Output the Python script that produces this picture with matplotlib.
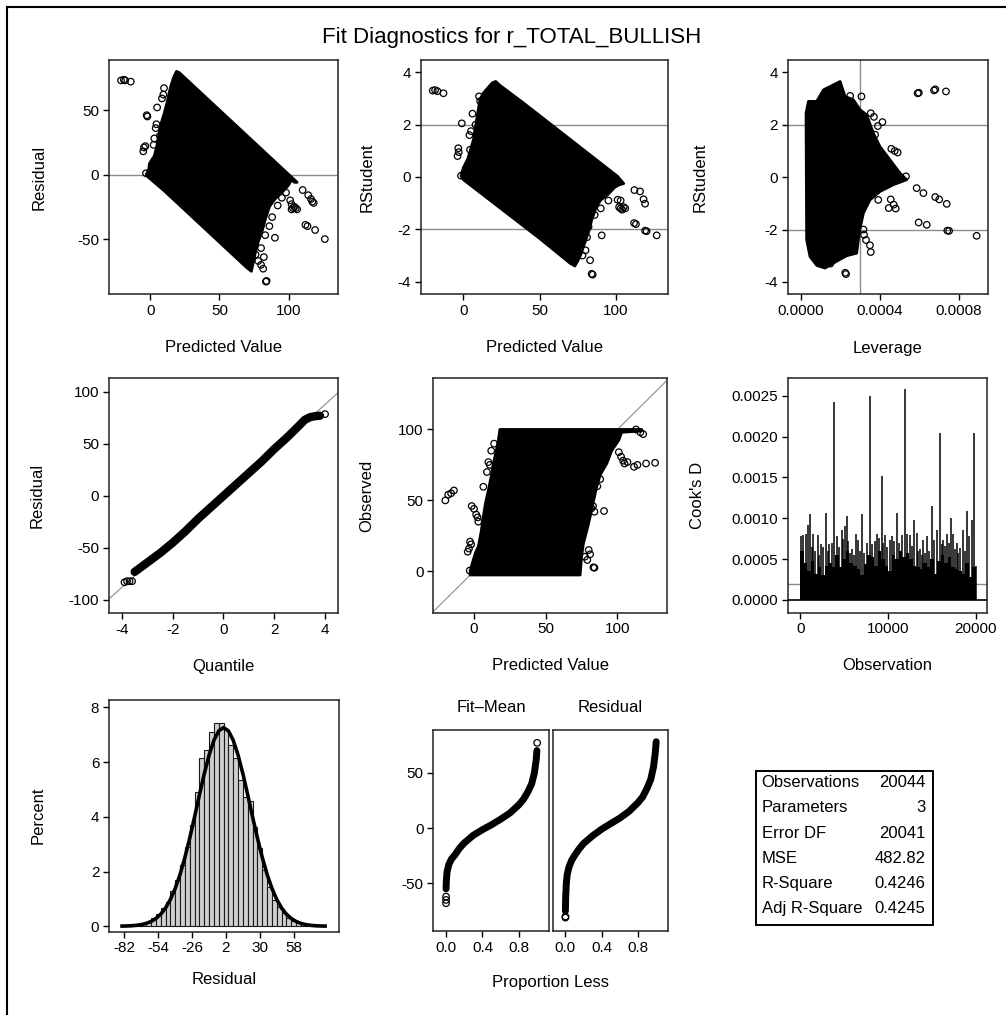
import matplotlib
matplotlib.use('Agg')
import matplotlib.pyplot as plt
import numpy as np
from matplotlib.patches import Polygon, Rectangle
from matplotlib.lines import Line2D

plt.rcParams['font.family'] = ['Liberation Sans', 'DejaVu Sans']
plt.rcParams['axes.unicode_minus'] = False

# ---- data ----
# residual vs predicted: outline of the dense cloud + loose points
res_cloud_pred = [-2.8, -1, -0.5, 1.5, 3, 5, 6.5, 8, 10, 12, 13.5, 15, 17, 19, 21, 40, 60, 80, 100, 106,
                  104, 102, 100, 95, 90, 86, 83, 81, 78, 76, 74, 73, 70, 50, 30, 10, -2.5]
res_cloud_res = [0.2, 4, 8.5, 12, 14.4, 23, 32, 40, 47, 55, 62.5, 69, 75.5, 80, 79, 60, 40, 20, 0, -6,
                 -6, -4, -8, -14, -19, -25, -35, -43, -52, -60, -70, -75, -72.5, -52.5, -32.5, -12.5, -1]
res_out_pred = [-21, -19, -18, -14, -2.5, -2, -5, -4.5, -3.5, -3, 2.5, 4, 4.5, 5, 8.5, 10, 9.5, 7, 3,
                90, 112, 113.5, 119, 126, 101, 102, 103, 104, 105, 106, 102, 110, 114, 116, 117, 118,
                98, 95, 92, 88, 86, 83.5, 84, 80, 81.5, 78, 82, 76, 80, 83]
res_out_res = [73, 73.5, 73, 72, 46, 45, 18, 21, 22, 1, 23, 36, 39, 52, 59, 67, 62, 30, 28,
               -49, -39, -40, -43, -50, -20, -23, -26, -25, -26, -27, -27, -12, -16, -19, -21, -22,
               -14, -18, -24, -33, -40, -83, -82.5, -70, -73, -67, -64, -62, -57, -47]

# rstudent vs predicted
rs_cloud_pred = [-1.5, 0, 3, 5, 6.6, 8, 9, 10.9, 13, 16, 19, 21.2, 24, 40, 60, 80, 100.9, 105, 102, 99,
                 95, 90, 87, 84, 82, 79, 77, 75, 73, 70, 50, 30, 10, 0]
rs_cloud_rs = [0.05, 0.35, 0.7, 1.1, 1.42, 1.9, 2.3, 2.95, 3.2, 3.4, 3.6, 3.65, 3.5, 2.8, 1.89, 0.98, 0.03,
               -0.25, -0.3, -0.4, -0.65, -0.88, -1.15, -1.65, -2.1, -2.6, -2.95, -3.2, -3.4, -3.3,
               -2.35, -1.45, -0.55, -0.1]
rs_out_pred = [-20, -18.5, -17, -13, -1, -3.3, -3.8, -3, -1.5, 6, 4, 5, 10.3, 11, 4.4, 8,
               90.6, 111.8, 113, 119, 120, 126.6, 101, 102, 103, 104, 105, 106, 103, 112, 115.7, 118,
               119, 84.7, 84, 83, 78, 80, 81, 82, 86, 90, 95]
rs_out_rs = [3.3, 3.32, 3.28, 3.2, 2.05, 1.1, 0.8, 0.95, 0.05, 2.42, 1.6, 1.75, 3.08, 2.9, 1.04, 2.0,
             -2.23, -1.76, -1.8, -2.05, -2.07, -2.23, -0.87, -1.15, -1.2, -1.25, -1.15, -1.2, -0.9, -0.5,
             -0.55, -0.85, -1.02, -3.73, -3.7, -3.18, -3.0, -2.8, -2.3, -1.9, -1.45, -1.2, -0.9]

# rstudent vs leverage
lev_cloud_h = [0.000027, 0.000039, 0.000081, 0.000115, 0.000165, 0.000199, 0.000224, 0.000266, 0.0003,
               0.000333, 0.000367, 0.0004, 0.000451, 0.000502, 0.000535, 0.000468, 0.0004, 0.00035,
               0.000317, 0.000296, 0.000283, 0.000232, 0.000165, 0.000123, 0.000081, 0.000047, 0.00003]
lev_cloud_rs = [2.44, 2.89, 2.89, 3.33, 3.52, 3.65, 3.08, 2.95, 2.57, 2.38, 1.68, 1.17, 0.66, 0.15, -0.1,
                -0.29, -0.55, -0.87, -1.37, -2.1, -2.9, -3.0, -3.28, -3.47, -3.37, -3.03, -2.39]
lev_out_h = [0.000591, 0.000597, 0.000674, 0.00068, 0.000734, 0.000413, 0.00039, 0.000458, 0.00049,
             0.000475, 0.000532, 0.000586, 0.00062, 0.00068, 0.0007, 0.000738, 0.000455, 0.000445,
             0.00048, 0.00047, 0.000392, 0.000596, 0.000637, 0.000741, 0.00075, 0.000889, 0.000229,
             0.000225, 0.000354, 0.00035, 0.00033, 0.000317, 0.00032, 0.000165, 0.00015, 0.000307,
             0.00025, 0.000354, 0.00037, 0.000376]
lev_out_rs = [3.2, 3.22, 3.31, 3.35, 3.27, 2.1, 1.95, 1.08, 0.94, 1.0, 0.03, -0.42, -0.61, -0.76, -0.85,
              -1.02, -0.85, -1.18, -1.2, -1.05, -0.87, -1.73, -1.82, -2.04, -2.05, -2.24, -3.7, -3.65,
              -2.86, -2.6, -2.4, -2.0, -2.2, -3.1, -3.3, 3.08, 3.1, 2.44, 2.3, 1.62]

# residual normal quantile plot
qq_q = [-3.5, -3.0, -2.5, -2.0, -1.5, -1.0, -0.5, 0.0, 0.5, 1.0, 1.5, 2.0, 2.5, 3.0, 3.2, 3.4, 3.6, 3.8]
qq_r = [-73, -64, -55, -45, -34, -22, -11, 0, 11, 22, 33, 45, 56, 68, 73, 75.5, 76.5, 77]
qq_out_q = [-3.9, -3.8, -3.7, -3.6, 3.7, 4.0]
qq_out_r = [-83, -82, -82, -82, 77, 78.5]
qq_ref_q = [-4.6, 4.6]
qq_ref_r = [-101, 101]

# observed vs predicted
obs_cloud_pred = [-2.8, -2, -0.5, 1, 3, 5, 6.5, 8, 10, 12, 13.5, 15.5, 17, 18, 102, 117, 117, 103, 101,
                  96, 92.6, 88, 85.6, 83, 81, 79, 76.3, 75, 74]
obs_cloud_obs = [-2.6, 3, 8, 13, 17.4, 28, 38.5, 48, 57, 67, 76, 85, 92.5, 100, 100, 100, 99, 98, 92.5,
                 85, 76, 68, 59.6, 48, 38.5, 30, 19.7, 10, -2.6]
obs_out_pred = [-20, -18, -16, -14, -1.6, 0, 1.5, 2.5, 3, -4.4, -3.5, -2.8, -2, -3, -1, 6.5, 9, 10, 11,
                12, 14, 116, 118, 113, 102.6, 104, 105, 107, 101, 111.6, 114, 120, 126.3, 90.7, 83.3, 84,
                77.4, 79, 81, 80, 82, 84, 83, 86, 88]
obs_out_obs = [50, 54, 55, 57, 46, 44, 40, 38, 35, 13.8, 16, 20.9, 19, 0.5, 0, 59.6, 70, 77, 75, 85, 90,
               98, 96.7, 100, 80.8, 78, 76, 77, 84, 73.7, 75, 76, 76.5, 42.5, 2.8, 2.5, 10.3, 8, 12, 15,
               44.4, 42, 46, 60, 65]

# Cook's D: solid body (per 400 observations) and the needles above it
cook_body_start = np.arange(0, 20000, 400)
cook_body = [6.0, 4.5, 3.5, 4.8, 3.2, 4.0, 3.0, 4.2, 4.5, 4.0, 5.5, 4.0, 5.0, 6.0, 4.5, 4.2, 3.8, 3.0,
             4.4, 5.5, 5.2, 4.2, 6.0, 5.0, 4.2, 3.5, 5.5, 5.0, 6.0, 5.2, 5.8, 5.0, 4.2, 4.0, 3.8, 4.5,
             4.0, 5.0, 3.2, 4.8, 5.5, 4.5, 5.2, 4.0, 3.8, 3.5, 3.2, 4.5, 2.8, 4.0]  # x 1e-4
cook_obs = [80, 345, 610, 840, 1100, 1300, 1480, 1700, 1980, 2150, 2360, 2600, 2920, 3100, 3300, 3570,
            3840, 4140, 4400, 4710, 4900, 5090, 5280, 5450, 5660, 5900, 6100, 6300, 6610, 6850, 7060,
            7300, 7560, 7940, 8200, 8450, 8700, 8960, 9270, 9450, 9650, 9900, 10220, 10400, 10670,
            10970, 11280, 11550, 11920, 12190, 12500, 12700, 12950, 13250, 13450, 13630, 13800, 14010,
            14200, 14390, 14600, 14960, 15230, 15530, 15910, 16100, 16290, 16500, 16670, 16900, 17120,
            17430, 17600, 17810, 18000, 18190, 18490, 18700, 18950, 19250, 19520, 19820, 20040]
cook_d = [7.8, 8.0, 8.1, 9.2, 10.5, 6.5, 8.1, 6.0, 7.9, 5.5, 6.8, 6.5, 10.6, 6.0, 6.8, 7.0, 24.2, 7.8,
          6.5, 8.6, 7.5, 9.0, 10.3, 7.2, 5.7, 6.2, 5.5, 8.1, 7.4, 6.0, 10.5, 5.8, 7.0, 25.0, 6.8, 7.2,
          8.1, 7.6, 15.2, 7.0, 8.0, 6.5, 7.4, 7.8, 7.2, 10.7, 7.0, 8.0, 25.8, 8.1, 8.0, 6.6, 9.8, 8.2,
          6.0, 6.2, 5.5, 7.4, 5.8, 7.8, 6.0, 11.5, 7.4, 8.6, 20.4, 6.8, 7.4, 6.6, 8.1, 7.0, 10.0, 8.1,
          6.2, 7.0, 5.8, 6.4, 8.6, 6.0, 10.9, 7.8, 9.8, 20.4, 4.1]  # x 1e-4
n_obs = 20044

# residual histogram (percent) and fitted normal curve
hist_mid = list(range(-82, 79, 4))
hist_pct = [0.01, 0.02, 0.03, 0.05, 0.09, 0.17, 0.3, 0.45, 0.66, 0.9, 1.27, 1.7, 2.24, 2.9, 3.7, 4.92,
            6.14, 6.45, 7.11, 7.42, 7.42, 7.2, 6.63, 6.14, 5.35, 4.74, 4.56, 3.64, 2.85, 2.06, 1.45,
            0.96, 0.72, 0.47, 0.29, 0.2, 0.13, 0.08, 0.05, 0.03, 0.02]
curve_x = [-84, -80, -76, -72, -68, -64, -60, -56, -52, -48, -44, -40, -36, -32, -28, -24, -20, -16,
           -12, -8, -4, 0, 4, 8, 12, 16, 20, 24, 28, 32, 36, 40, 44, 48, 52, 56, 60, 64, 68, 72, 76, 80, 84]
curve_y = [0.005, 0.01, 0.018, 0.034, 0.06, 0.104, 0.174, 0.282, 0.441, 0.668, 0.978, 1.384, 1.897,
           2.514, 3.224, 3.998, 4.797, 5.569, 6.254, 6.795, 7.141, 7.26, 7.141, 6.795, 6.254, 5.569,
           4.797, 3.998, 3.224, 2.514, 1.897, 1.384, 0.978, 0.668, 0.441, 0.282, 0.174, 0.104, 0.06,
           0.034, 0.018, 0.01, 0.005]

# residual-fit spread
fm_p = [0.0, 0.003, 0.01, 0.03, 0.06, 0.1, 0.15, 0.2, 0.3, 0.4, 0.5, 0.6, 0.7, 0.8, 0.85, 0.9, 0.94,
        0.97, 0.99, 0.997]
fm_v = [-55, -48, -40, -33, -28, -24, -18, -13.5, -6.5, -1.5, 3, 8, 13.5, 21, 26, 33, 40, 50, 62, 70]
fm_out_p = [0.0, 0.0, 0.0, 1.0]
fm_out_v = [-62, -65, -68, 77]
rd_p = [0.0, 0.003, 0.01, 0.02, 0.04, 0.07, 0.1, 0.15, 0.2, 0.3, 0.4, 0.5, 0.6, 0.7, 0.8, 0.85, 0.9,
        0.94, 0.97, 0.99, 1.0]
rd_v = [-75, -62, -50, -42, -35, -29, -25, -19, -14, -7, -1, 4, 9, 15, 23, 28, 36, 44, 55, 68, 78]
rd_out_p = [0.0, 0.0]
rd_out_v = [-81, -80]

stat_names = ['Observations', 'Parameters', 'Error DF', 'MSE', 'R-Square', 'Adj R-Square']
stat_values = ['20044', '3', '20041', '482.82', '0.4246', '0.4245']

# ---- figure ----
W, H = 1006, 1015
fig = plt.figure(figsize=(W / 100, H / 100), dpi=100)
GREY = '#8c8c8c'
TICK = 11
LAB = 12


def box(l, t, r, b):
    ax = fig.add_axes([l / W, 1 - b / H, (r - l) / W, (b - t) / H])
    for s in ax.spines.values():
        s.set_linewidth(1.1)
        s.set_color('#222222')
    ax.tick_params(direction='out', length=4, width=1, labelsize=TICK, pad=3)
    return ax


def ftext(x, y, s, **kw):
    fig.text(x / W, 1 - y / H, s, ha='center', va='center', **kw)


def cloud(ax, xs, ys):
    ax.add_patch(Polygon(np.column_stack([xs, ys]), closed=True, fc='black', ec='black',
                         lw=2, joinstyle='round', zorder=2))


def loose(ax, xs, ys):
    ax.scatter(xs, ys, s=22, facecolors='none', edgecolors='black', linewidths=0.9, zorder=3)


# frame and title
fig.add_artist(Line2D([7 / W, 7 / W], [0, 1 - 7 / H], color='black', lw=1.5))
fig.add_artist(Line2D([7 / W, 1], [1 - 7 / H, 1 - 7 / H], color='black', lw=1.5))
ftext(512, 37.5, 'Fit Diagnostics for r_TOTAL_BULLISH', fontsize=16)

# residual vs predicted
ax = box(109, 60, 338, 294)
ax.axhline(0, color=GREY, lw=1, zorder=1)
cloud(ax, res_cloud_pred, res_cloud_res)
loose(ax, res_out_pred, res_out_res)
ax.set_xlim(-29.7, 135.5)
ax.set_ylim(-92.6, 88.8)
ax.set_xticks([0, 50, 100])
ax.set_yticks([-50, 0, 50])
ftext(39, 177, 'Residual', fontsize=LAB, rotation=90)
ftext(223.5, 348, 'Predicted Value', fontsize=LAB)

# rstudent vs predicted
ax = box(420.7, 60, 668, 294)
for v in (-2, 2):
    ax.axhline(v, color=GREY, lw=1, zorder=1)
cloud(ax, rs_cloud_pred, rs_cloud_rs)
loose(ax, rs_out_pred, rs_out_rs)
ax.set_xlim(-27.9, 134)
ax.set_ylim(-4.47, 4.47)
ax.set_xticks([0, 50, 100])
ax.set_yticks([-4, -2, 0, 2, 4])
ftext(366.7, 177, 'RStudent', fontsize=LAB, rotation=90)
ftext(544, 348, 'Predicted Value', fontsize=LAB)

# rstudent vs leverage
ax = box(787.7, 60, 987.7, 294)
for v in (-2, 2):
    ax.axhline(v, color=GREY, lw=1, zorder=1)
ax.axvline(6 / n_obs, color=GREY, lw=1, zorder=1)
cloud(ax, lev_cloud_h, lev_cloud_rs)
loose(ax, lev_out_h, lev_out_rs)
ax.set_xlim(-0.0000657, 0.000945)
ax.set_ylim(-4.46, 4.47)
ax.set_xticks([0, 0.0004, 0.0008])
ax.set_xticklabels(['0.0000', '0.0004', '0.0008'])
ax.set_yticks([-4, -2, 0, 2, 4])
ftext(700, 177, 'RStudent', fontsize=LAB, rotation=90)
ftext(887.7, 348, 'Leverage', fontsize=LAB)

# Q-Q plot
ax = box(109, 378, 338, 613)
ax.plot(qq_ref_q, qq_ref_r, color=GREY, lw=0.8, zorder=1)
ax.plot(qq_q, qq_r, color='black', lw=6, solid_capstyle='round', zorder=2)
loose(ax, qq_out_q, qq_out_r)
ax.set_xlim(-4.51, 4.51)
ax.set_ylim(-112.5, 113.2)
ax.set_xticks([-4, -2, 0, 2, 4])
ax.set_yticks([-100, -50, 0, 50, 100])
ftext(36.7, 495.5, 'Residual', fontsize=LAB, rotation=90)
ftext(223.5, 666.7, 'Quantile', fontsize=LAB)

# observed vs predicted
ax = box(433.3, 378, 666.7, 612.7)
ax.plot([-40, 150], [-40, 150], color=GREY, lw=0.8, zorder=1)
cloud(ax, obs_cloud_pred, obs_cloud_obs)
loose(ax, obs_out_pred, obs_out_obs)
ax.set_xlim(-28.4, 134.4)
ax.set_ylim(-29.2, 136.3)
ax.set_xticks([0, 50, 100])
ax.set_yticks([0, 50, 100])
ftext(367, 495.5, 'Observed', fontsize=LAB, rotation=90)
ftext(550, 666, 'Predicted Value', fontsize=LAB)

# Cook's D
ax = box(787.7, 378, 987.3, 612.7)
ax.axhline(4 / n_obs, color=GREY, lw=1, zorder=1)
ax.bar(cook_body_start, np.array(cook_body) * 1e-4, width=[400] * 49 + [n_obs - 19600],
       align='edge', color='black', lw=0, zorder=2)
ax.vlines(cook_obs, 0, np.array(cook_d) * 1e-4, color='black', lw=1.1, zorder=2)
ax.axhline(0, color='black', lw=1.2, zorder=3)
ax.set_xlim(-1435, 21287)
ax.set_ylim(-0.000156, 0.002717)
ax.set_xticks([0, 10000, 20000])
ax.set_yticks([0, 0.0005, 0.001, 0.0015, 0.002, 0.0025])
ax.set_yticklabels(['0.0000', '0.0005', '0.0010', '0.0015', '0.0020', '0.0025'])
ftext(697.5, 495.5, "Cook's D", fontsize=LAB, rotation=90)
ftext(887.5, 666, 'Observation', fontsize=LAB)

# histogram
ax = box(109, 700, 339, 931.7)
ax.bar(hist_mid, hist_pct, width=4, color='#cfcfcf', edgecolor='#1a1a1a', lw=0.8, zorder=2)
ax.plot(curve_x, curve_y, color='black', lw=2.6, zorder=3)
ax.set_xlim(-94.8, 95.5)
ax.set_ylim(-0.2, 8.27)
ax.set_xticks([-82, -54, -26, 2, 30, 58])
ax.set_yticks([0, 2, 4, 6, 8])
ftext(38, 815, 'Percent', fontsize=LAB, rotation=90)
ftext(224, 980, 'Residual', fontsize=LAB)

# residual-fit spread
ax1 = box(433.3, 730, 549, 931)
ax1.plot(fm_p, fm_v, color='black', lw=5, solid_capstyle='round')
loose(ax1, fm_out_p, fm_out_v)
ax2 = box(552.7, 730, 668, 931)
ax2.plot(rd_p, rd_v, color='black', lw=5, solid_capstyle='round')
loose(ax2, rd_out_p, rd_out_v)
for a in (ax1, ax2):
    a.set_xlim(-0.14, 1.13)
    a.set_ylim(-93.1, 88.6)
    a.set_xticks([0, 0.4, 0.8])
    a.set_xticklabels(['0.0', '0.4', '0.8'])
    a.set_yticks([-50, 0, 50])
ax2.tick_params(left=False, labelleft=False)
ftext(491, 707.5, 'Fit\u2013Mean', fontsize=LAB)
ftext(610, 707.5, 'Residual', fontsize=LAB)
ftext(550, 983, 'Proportion Less', fontsize=LAB)

# fit statistics table
fig.add_artist(Rectangle((756 / W, 1 - 925 / H), (932.7 - 756) / W, (925 - 770.7) / H,
                         fill=False, ec='black', lw=1.4, transform=fig.transFigure))
row_y = [782.7, 807.7, 833, 858.3, 883.3, 908.7]
for name, val, y in zip(stat_names, stat_values, row_y):
    fig.text(761.7 / W, 1 - y / H, name, ha='left', va='center', fontsize=LAB)
    fig.text(925.7 / W, 1 - y / H, val, ha='right', va='center', fontsize=LAB)

fig.savefig('out.png', dpi=100)
